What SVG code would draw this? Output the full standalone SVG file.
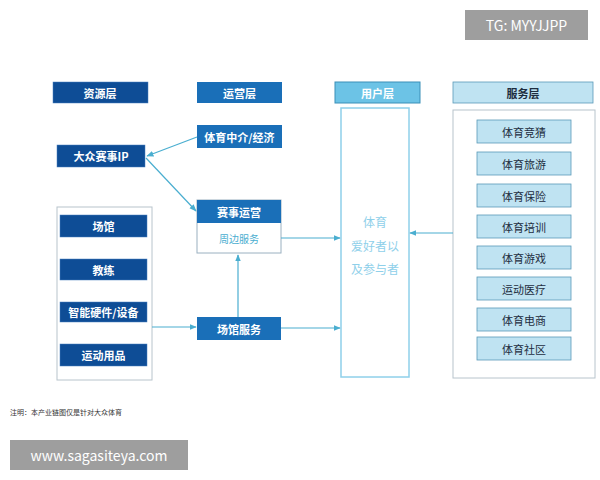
<svg xmlns="http://www.w3.org/2000/svg" width="600" height="480" viewBox="0 0 600 480">
<style>
text{font-family:"Noto Sans CJK SC","Liberation Sans",sans-serif;text-anchor:middle;dominant-baseline:central}
.dk{fill:#0e4d96;stroke:#4a7fbf;stroke-width:0.5}
.dt{fill:#fff;font-size:11px;font-weight:bold}
.lb{fill:#bfe3f2;stroke:#5a9ab8;stroke-width:0.8}
.lt{fill:#1d2d40;font-size:11px}
.c{stroke:#4aaed0;stroke-width:1.2;fill:none;marker-end:url(#a)}
</style>
<defs><marker id="a" viewBox="0 0 10 10" refX="9" refY="5" markerWidth="6" markerHeight="6" orient="auto"><path d="M0,1 L10,5 L0,9z" fill="#4aaed0"/></marker></defs>
<rect width="600" height="480" fill="#fff"/>
<g id="h1"><rect class="dk" x="53" y="82" width="95" height="21"/><text class="dt" x="100" y="92.5">资源层</text></g>
<g id="h2"><rect x="197" y="82" width="85" height="21" fill="#1a6fb8"/><text class="dt" x="239.5" y="92.5">运营层</text></g>
<g id="h3"><rect x="335" y="82" width="85" height="21" fill="#6cc3e6" stroke="#3a8fb8"/><text class="dt" x="377.5" y="92.5">用户层</text></g>
<g id="h4"><rect class="lb" x="453" y="82" width="140" height="21"/><text class="lt" x="523" y="92.5" font-weight="bold">服务层</text></g>
<g id="agent"><rect x="197" y="125" width="85" height="23" fill="#1a6fb8"/><text class="dt" x="239.5" y="136.5">体育中介/经济</text></g>
<g id="ip"><rect class="dk" x="57" y="145" width="88" height="22"/><text class="dt" x="101" y="156">大众赛事IP</text></g>
<g id="res"><rect x="57" y="207" width="95" height="173" fill="#fff" stroke="#b8c4cc"/>
<rect class="dk" x="60" y="215" width="87" height="22"/><text class="dt" x="103.5" y="226">场馆</text>
<rect class="dk" x="60" y="259" width="87" height="21"/><text class="dt" x="103.5" y="269.5">教练</text>
<rect class="dk" x="60" y="302" width="87" height="20"/><text class="dt" x="103.5" y="312">智能硬件/设备</text>
<rect class="dk" x="60" y="344" width="87" height="22"/><text class="dt" x="103.5" y="355">运动用品</text></g>
<g id="ops"><rect x="197" y="200" width="84" height="53" fill="#fff" stroke="#9ab0c0"/><rect x="197" y="200" width="84" height="23" fill="#1a6fb8"/><text class="dt" x="239" y="211.5">赛事运营</text><text x="239" y="238" font-size="10" fill="#4aaed0">周边服务</text></g>
<g id="venue"><rect x="197" y="317" width="84" height="23" fill="#1a6fb8"/><text class="dt" x="239" y="328.5">场馆服务</text></g>
<g id="user"><rect x="341" y="108" width="68" height="269" fill="#fff" stroke="#8fd0ea" stroke-width="1.5"/><text x="375" y="221" font-size="12" fill="#8fd0ea">体育</text><text x="375" y="245" font-size="12" fill="#8fd0ea">爱好者以</text><text x="375" y="268" font-size="12" fill="#8fd0ea">及参与者</text></g>
<g id="svc"><rect x="453" y="110" width="142" height="268" fill="#fff" stroke="#b8c4cc"/>
<rect class="lb" x="477" y="120" width="94" height="23"/><text class="lt" x="524" y="131.5">体育竞猜</text>
<rect class="lb" x="477" y="152" width="94" height="23"/><text class="lt" x="524" y="163.5">体育旅游</text>
<rect class="lb" x="477" y="184" width="94" height="23"/><text class="lt" x="524" y="195.5">体育保险</text>
<rect class="lb" x="477" y="215" width="94" height="23"/><text class="lt" x="524" y="226.5">体育培训</text>
<rect class="lb" x="477" y="246" width="94" height="23"/><text class="lt" x="524" y="257.5">体育游戏</text>
<rect class="lb" x="477" y="277" width="94" height="23"/><text class="lt" x="524" y="288.5">运动医疗</text>
<rect class="lb" x="477" y="308" width="94" height="23"/><text class="lt" x="524" y="319.5">体育电商</text>
<rect class="lb" x="477" y="337" width="94" height="23"/><text class="lt" x="524" y="348.5">体育社区</text></g>
<g id="connectors">
<path class="c" d="M197,137 L147,156"/>
<path class="c" d="M146,158 L196,211"/>
<path class="c" d="M152,327 L196,327"/>
<path class="c" d="M238,317 L238,255"/>
<path class="c" d="M281,238 L340,238"/>
<path class="c" d="M281,328 L340,328"/>
<path class="c" d="M453,233 L410,233"/>
</g>
<text x="10" y="412" font-size="7" fill="#333" style="text-anchor:start">注明：本产业链图仅是针对大众体育</text>
<rect x="465" y="10" width="123" height="30" fill="#9e9e9e"/><text x="526.5" y="25" font-size="14" fill="#fff" font-family="Liberation Sans">TG: MYYJJPP</text>
<rect x="10" y="440" width="178" height="30" fill="#9e9e9e"/><text x="99" y="455" font-size="14" fill="#fff" font-family="Liberation Sans">www.sagasiteya.com</text>
</svg>
